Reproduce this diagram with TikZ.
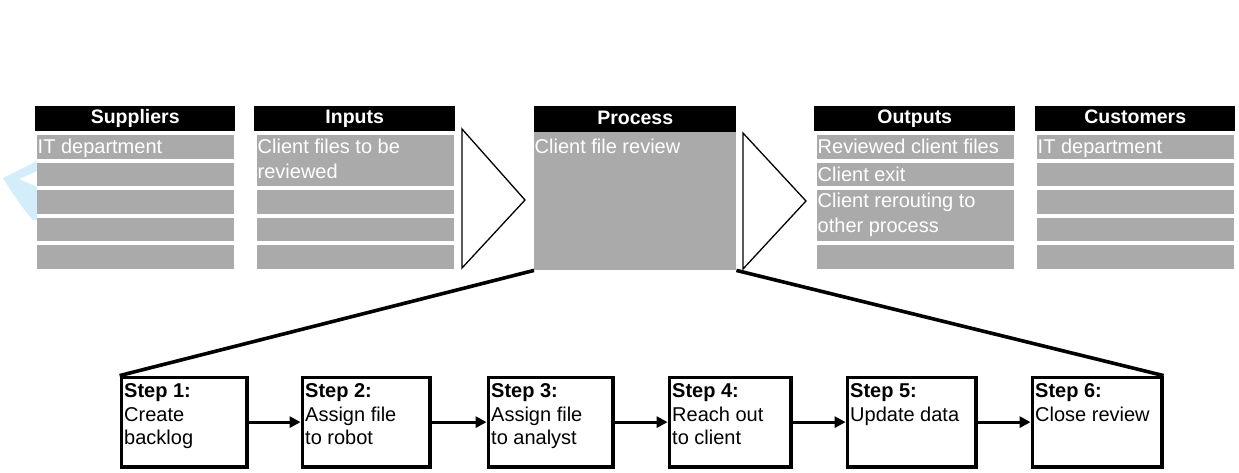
\documentclass[tikz,border=0pt]{standalone}
\usepackage{fontspec}
\setmainfont{Liberation Sans}
\usetikzlibrary{arrows.meta}
\definecolor{rowgray}{RGB}{170,170,170}
\definecolor{chevblue}{RGB}{212,237,251}
\newcommand\myrowfont{\fontsize{20}{25}\selectfont}
\newcommand\myhdrfont{\fontsize{19.5}{23}\selectfont\bfseries}
\newcommand\mystepfont{\fontsize{20}{23.5}\selectfont}
\begin{document}
\begin{tikzpicture}[x=1pt,y=-1pt,
  hdr/.style={fill=black, text=white, font=\myhdrfont, inner sep=0pt, anchor=north west,
              text height=14.6pt, text depth=4.2pt, minimum height=25pt},
  row/.style={fill=rowgray, inner sep=0pt, anchor=north west},
  rowtxt/.style={text=white, anchor=base west, inner sep=0pt, font=\myrowfont},
  rowtxt2/.style={text=white, anchor=north west, inner sep=0pt, align=left, font=\myrowfont},
  stepbox/.style={draw=black, line width=3.2pt, anchor=north west, inner sep=0pt},
  steptxt/.style={anchor=north west, inner sep=0pt, align=left, font=\mystepfont},
  flow/.style={line width=3pt, -{Triangle[length=11pt,width=11pt]}},
  zoomline/.style={line width=3.6pt},
  tri/.style={draw=black, line width=1.3pt, fill=white, line join=miter}
]
\path[use as bounding box, fill=white] (0,0) rectangle (1239,472);

% faint chevron at the left edge
\fill[chevblue] (37,161) -- (3,178) .. controls (14,196) and (24,210) .. (33,220)
  -- (37,220) -- (37,187) -- (19,179) -- (37,171) -- cycle;

% headers
\node[hdr, minimum width=200pt] (hs) at (35,106) {Suppliers};
\node[hdr, minimum width=201pt] (hi) at (254,106) {Inputs};
\node[hdr, minimum width=202pt, minimum height=26pt] (hp) at (534,106) {Process};
\node[hdr, minimum width=201pt] (ho) at (814,106) {Outputs};
\node[hdr, minimum width=200pt] (hc) at (1035,106) {Customers};

% suppliers and customers rows
\foreach \t/\h [count=\i] in {135/24,163/23,190/24,218/23,245/24} {
  \node[row, minimum width=197pt, minimum height=\h pt] (s\i) at (37,\t) {};
  \node[row, minimum width=197pt, minimum height=\h pt] (c\i) at (1037,\t) {};
}
% inputs rows
\node[row, minimum width=197pt, minimum height=51pt] (i1) at (257,135) {};
\node[row, minimum width=197pt, minimum height=24pt] (i2) at (257,190) {};
\node[row, minimum width=197pt, minimum height=23pt] (i3) at (257,218) {};
\node[row, minimum width=197pt, minimum height=24pt] (i4) at (257,245) {};
% process
\node[row, minimum width=202pt, minimum height=138pt] (pg) at (534,132) {};
% outputs rows
\node[row, minimum width=197pt, minimum height=24pt] (o1) at (817,135) {};
\node[row, minimum width=197pt, minimum height=23pt] (o2) at (817,163) {};
\node[row, minimum width=197pt, minimum height=51pt] (o3) at (817,190) {};
\node[row, minimum width=197pt, minimum height=24pt] (o4) at (817,245) {};

% row texts
\node[rowtxt] (ts1) at (37.5,153) {IT department};
\node[rowtxt2] (ti1) at (257.5,138.4) {Client files to be\\reviewed};
\node[rowtxt] (tp1) at (534.5,153) {Client file review};
\node[rowtxt] (to1) at (817.5,153) {Reviewed client files};
\node[rowtxt] (to2) at (817.5,181) {Client exit};
\node[rowtxt2] (to3) at (817.5,192.4) {Client rerouting to\\other process};
\node[rowtxt] (tc1) at (1037.5,153) {IT department};

% chevron triangles
\draw[tri] (462,129) -- (525,200) -- (462,268) -- cycle;
\draw[tri] (743,133) -- (806,201) -- (743,269) -- cycle;

% steps
\foreach \i/\l/\r in {1/118/247, 2/299/430, 3/485/613, 4/666/791, 5/844/976, 6/1029/1162} {
  \node[stepbox, minimum width={(\r-\l-3.2)*1pt}, minimum height=89.8pt] (st\i) at (\l+1.6,375.6) {};
}
\node[steptxt] (tx1) at (124,383.5) {\textbf{Step 1:}\\Create\\backlog};
\node[steptxt] (tx2) at (305,383.5) {\textbf{Step 2:}\\Assign file\\to robot};
\node[steptxt] (tx3) at (491,383.5) {\textbf{Step 3:}\\Assign file\\to analyst};
\node[steptxt] (tx4) at (672,383.5) {\textbf{Step 4:}\\Reach out\\to client};
\node[steptxt] (tx5) at (850,383.5) {\textbf{Step 5:}\\Update data};
\node[steptxt] (tx6) at (1035,383.5) {\textbf{Step 6:}\\Close review};

% flow arrows
\foreach \a/\b in {1/2,2/3,3/4,4/5,5/6} {
  \draw[flow] (st\a.east) -- (st\b.west);
}

% zoom lines
\draw[zoomline] (pg.south west) -- (st1.north west);
\draw[zoomline] (pg.south east) -- (st6.north east);
\end{tikzpicture}
\end{document}
